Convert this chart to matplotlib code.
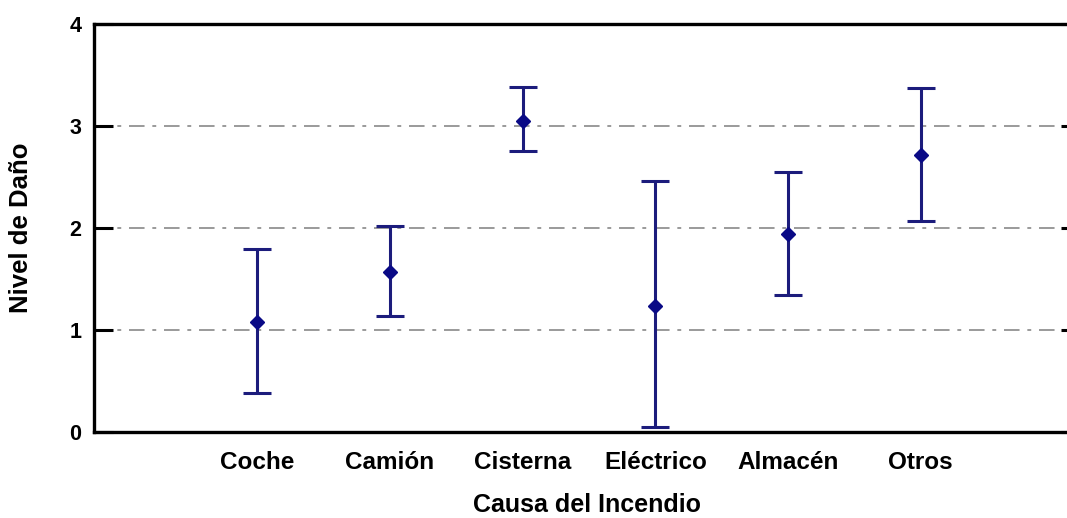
import numpy as np
import matplotlib
matplotlib.use('Agg')
from matplotlib import pyplot as plt

plt.rcParams['font.family'] = ['Liberation Sans', 'DejaVu Sans']
plt.rcParams['font.weight'] = 'bold'

# datos: media y límites del intervalo
causas = ['Coche', 'Camión', 'Cisterna', 'Eléctrico', 'Almacén', 'Otros']
media = [1.075, 1.57, 3.05, 1.24, 1.94, 2.72]
inferior = [0.385, 1.14, 2.755, 0.05, 1.34, 2.07]
superior = [1.79, 2.02, 3.385, 2.46, 2.55, 3.37]

media = np.array(media)
err = np.array([media - np.array(inferior), np.array(superior) - media])
x = np.arange(1, len(causas) + 1)

fig = plt.figure(figsize=(10.67, 5.18), dpi=100)
# el eje derecho queda fuera de la imagen, como en el original
ax = fig.add_axes([94 / 1067, 86 / 518, (1080 - 94) / 1067, 408 / 518])

ax.errorbar(x, media, yerr=err, fmt='D', color='#1c1c7c', ecolor='#1c1c7c',
            elinewidth=2.2, capsize=10, capthick=2.2,
            markersize=7.5, markerfacecolor='#0a0a86', markeredgecolor='#0a0a86', zorder=3)

ax.set_xlim(-0.23, 7.2)
ax.set_ylim(0, 4)
ax.set_yticks([0, 1, 2, 3, 4])
ax.set_xticks(x)
ax.set_xticklabels(causas, fontsize=17.5, fontweight='bold')
ax.tick_params(axis='x', length=0, pad=14)
ax.tick_params(axis='y', direction='in', length=14, width=2.2, labelsize=15.5,
               pad=9, right=True)
for t in ax.get_yticklabels():
    t.set_fontweight('bold')

for v in [1, 2, 3]:
    ax.axhline(v, color='#9a9a9a', lw=1.4, dashes=(8, 4, 2, 4), zorder=1)

for s in ax.spines.values():
    s.set_linewidth(2.4)

ax.set_xlabel('Causa del Incendio', fontsize=18, fontweight='bold', labelpad=13)
ax.set_ylabel('Nivel de Daño', fontsize=18.5, fontweight='bold', labelpad=26)

fig.savefig('out.png', dpi=100)
